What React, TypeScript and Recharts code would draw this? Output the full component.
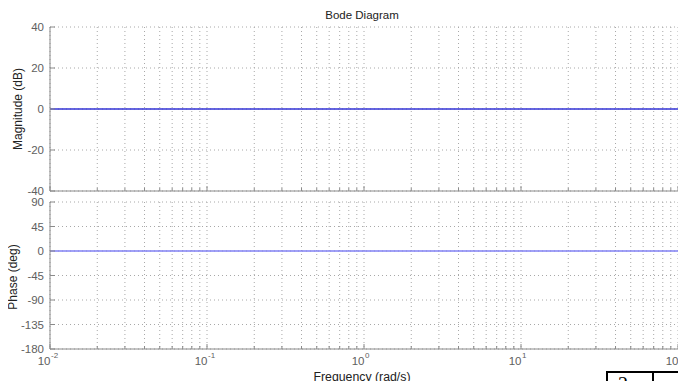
import React from "react";
import { LineChart, Line, XAxis, YAxis, CartesianGrid } from "recharts";

const freqs = [0.01, 0.1, 1, 10, 100];
const magnitudeDb = [0, 0, 0, 0, 0];
const phaseDeg = [0, 0, 0, 0, 0];
const magTicks = [-40, -20, 0, 20, 40];
const phaseTicks = [-180, -135, -90, -45, 0, 45, 90];
const decades = [0.01, 0.1, 1, 10, 100];
const decadeExps = ["-2", "-1", "0", "1", "2"];

const freqTicks: number[] = [];
for (let d = 0; d < 4; d++) {
  const base = decades[d];
  for (let k = 1; k < 10; k++) freqTicks.push(+(base * k).toPrecision(3));
}
freqTicks.push(100);

const magData = freqs.map((f, i) => ({ f, v: magnitudeDb[i] }));
const phaseData = freqs.map((f, i) => ({ f, v: phaseDeg[i] }));

const FONT = "'Liberation Sans', Arial, Helvetica, sans-serif";
const AXIS = "#8a8a8a";
const TICKTXT = "#606060";
const W = 686;

const isDecade = (v: number) => decades.some((d) => Math.abs(d - v) < 1e-9);

const BottomTick = (props: any) => {
  const { x, y, payload, showLabel } = props;
  const v = payload.value;
  const dec = isDecade(v);
  const len = dec ? 5 : 3;
  const idx = decades.findIndex((d) => Math.abs(d - v) < 1e-9);
  return (
    <g>
      <line x1={x} y1={y} x2={x} y2={y - len} stroke={AXIS} strokeWidth={1} />
      {showLabel && dec ? (
        <g>
          <text x={x + 0.5} y={y + 16} textAnchor="end" fontFamily={FONT} fontSize={11.5} fill={TICKTXT}>
            10
          </text>
          <text x={x + 1} y={y + 9} textAnchor="start" fontFamily={FONT} fontSize={8} fill={TICKTXT}>
            {decadeExps[idx]}
          </text>
        </g>
      ) : null}
    </g>
  );
};

const TopTick = (props: any) => {
  const { x, y, payload } = props;
  const dec = isDecade(payload.value);
  const len = dec ? 5 : 3;
  return <line x1={x} y1={y} x2={x} y2={y + len} stroke={AXIS} strokeWidth={1} />;
};

const LeftTick = (props: any) => {
  const { x, y, payload } = props;
  return (
    <g>
      <line x1={x} y1={y} x2={x + 5} y2={y} stroke={AXIS} strokeWidth={1} />
      <text x={x - 6} y={y + 4} textAnchor="end" fontFamily={FONT} fontSize={11.5} fill={TICKTXT}>
        {payload.value}
      </text>
    </g>
  );
};

const RightTick = (props: any) => {
  const { x, y } = props;
  return <line x1={x} y1={y} x2={x - 5} y2={y} stroke={AXIS} strokeWidth={1} />;
};

const Panel = ({ data, ticks, domain, color, height, marginTop, bottomH, showX }: any) => (
  <LineChart
    width={W}
    height={height}
    data={data}
    margin={{ top: marginTop, right: 8, bottom: 0, left: 0 }}
  >
    <CartesianGrid stroke="#a8a8a8" strokeDasharray="1 3" />
    <XAxis
      dataKey="f"
      type="number"
      scale="log"
      domain={[0.01, 100]}
      ticks={freqTicks}
      interval={0}
      height={bottomH}
      stroke={AXIS}
      tickLine={false}
      tickSize={0}
      tickMargin={0}
      tick={<BottomTick showLabel={showX} />}
      allowDataOverflow
    />
    <XAxis
      xAxisId="t"
      orientation="top"
      dataKey="f"
      type="number"
      scale="log"
      domain={[0.01, 100]}
      ticks={freqTicks}
      interval={0}
      height={0}
      stroke={AXIS}
      tickLine={false}
      tickSize={0}
      tickMargin={0}
      tick={<TopTick />}
      allowDataOverflow
    />
    <YAxis
      type="number"
      domain={domain}
      ticks={ticks}
      interval={0}
      width={50}
      stroke={AXIS}
      tickLine={false}
      tickSize={0}
      tickMargin={0}
      tick={<LeftTick />}
      allowDataOverflow
    />
    <YAxis
      yAxisId="r"
      orientation="right"
      type="number"
      domain={domain}
      ticks={ticks}
      interval={0}
      width={0}
      stroke={AXIS}
      tickLine={false}
      tickSize={0}
      tickMargin={0}
      tick={<RightTick />}
      allowDataOverflow
    />
    <Line
      dataKey="v"
      stroke={color}
      strokeWidth={1.3}
      dot={false}
      isAnimationActive={false}
    />
  </LineChart>
);

export default function App() {
  return (
    <div style={{ position: "relative", width: W, height: 381, margin: "-8px 0 0 -8px", overflow: "hidden", background: "#fff" }}>
      <div style={{ position: "absolute", left: 0, top: 0 }}>
        <Panel data={magData} ticks={magTicks} domain={[-40, 40]} color="#3333d6" height={200} marginTop={27} bottomH={9} showX={false} />
      </div>
      <div style={{ position: "absolute", left: 0, top: 190 }}>
        <Panel data={phaseData} ticks={phaseTicks} domain={[-180, 90]} color="#8080f4" height={191} marginTop={12} bottomH={32} showX={true} />
      </div>
      <svg width={W} height={381} style={{ position: "absolute", left: 0, top: 0, pointerEvents: "none" }}>
        <text x={362} y={19} textAnchor="middle" fontFamily={FONT} fontSize={11.5} fill="#222">Bode Diagram</text>
        <text transform="translate(22,109) rotate(-90)" textAnchor="middle" fontFamily={FONT} fontSize={12} fill="#222">Magnitude (dB)</text>
        <text transform="translate(17,277) rotate(-90)" textAnchor="middle" fontFamily={FONT} fontSize={12} fill="#222">Phase (deg)</text>
        <text x={362} y={381} textAnchor="middle" fontFamily={FONT} fontSize={12.3} fill="#222">Frequency (rad/s)</text>
      </svg>
      <div style={{ position: "absolute", left: 606, top: 371, width: 120, height: 40, border: "2px solid #000", boxSizing: "border-box" }}>
        <div style={{ position: "absolute", left: 44, top: -2, width: 0, height: 40, borderLeft: "2px solid #000" }} />
        <div style={{ position: "absolute", left: 10, top: 1, fontFamily: "'Liberation Serif', serif", fontSize: 20, lineHeight: "20px", color: "#000" }}>2</div>
      </div>
    </div>
  );
}
